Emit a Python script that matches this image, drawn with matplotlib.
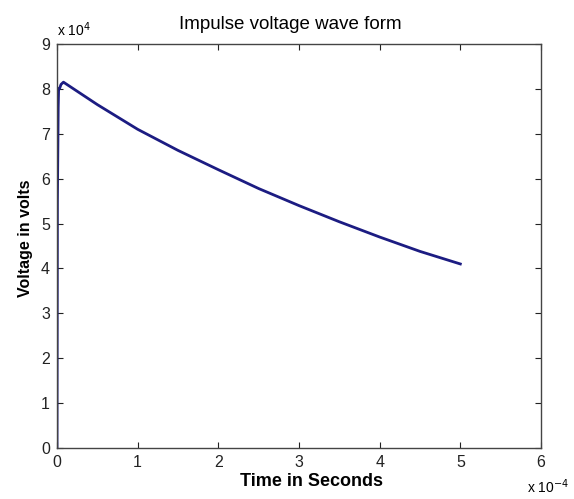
import numpy as np
import matplotlib.pyplot as plt

plt.rcParams['font.family'] = ['Liberation Sans', 'DejaVu Sans']

# time in units of 1e-4 s, voltage in units of 1e4 V
time_e4 = [0.0, 0.005, 0.015, 0.02, 0.03, 0.05, 0.08, 0.5, 1.0, 1.5, 2.0, 2.5, 3.0, 3.5, 4.0, 4.5, 5.0]
volt_e4 = [0.0, 5.5, 7.6, 8.0, 8.0, 8.1, 8.15, 7.65, 7.1, 6.63, 6.2, 5.78, 5.4, 5.04, 4.7, 4.38, 4.1]

x_ticks = [0, 1, 2, 3, 4, 5, 6]
y_ticks = [0, 1, 2, 3, 4, 5, 6, 7, 8, 9]

t = np.array(time_e4) * 1e-4
v = np.array(volt_e4) * 1e4

fig = plt.figure(figsize=(5.74, 4.99), dpi=100)
ax = fig.add_axes([0.0993, 0.1022, 0.8432, 0.8096])
ax.plot(t, v, color='#1c1c82', linewidth=2)

ax.set_xlim(0, 6e-4)
ax.set_ylim(0, 9e4)
ax.set_xticks(np.array(x_ticks) * 1e-4)
ax.set_xticklabels([str(i) for i in x_ticks])
ax.set_yticks(np.array(y_ticks) * 1e4)
ax.set_yticklabels([str(i) for i in y_ticks])
ax.tick_params(direction='in', length=4, labelsize=11.5, colors='#222222', pad=5)
ax.tick_params(top=True, right=True)
for s in ax.spines.values():
    s.set_color('#444444')
    s.set_linewidth(1)

ax.set_title('Impulse voltage wave form', fontsize=13.5, pad=11, x=0.483)
ax.set_xlabel('Time in Seconds', fontsize=13, fontweight='bold')
ax.xaxis.set_label_coords(0.525, -0.063)
ax.set_ylabel('Voltage in volts', fontsize=11.5, fontweight='bold')
ax.yaxis.set_label_coords(-0.05, 0.52)

# exponent labels like MATLAB
ax.text(0.0, 1.012, r'x 10$^{4}$', transform=ax.transAxes, fontsize=10, ha='left', va='bottom')
fig.text(0.918, 0.006, r'x 10$^{-4}$', fontsize=10, ha='left', va='bottom')

fig.savefig('out.png', dpi=100)
